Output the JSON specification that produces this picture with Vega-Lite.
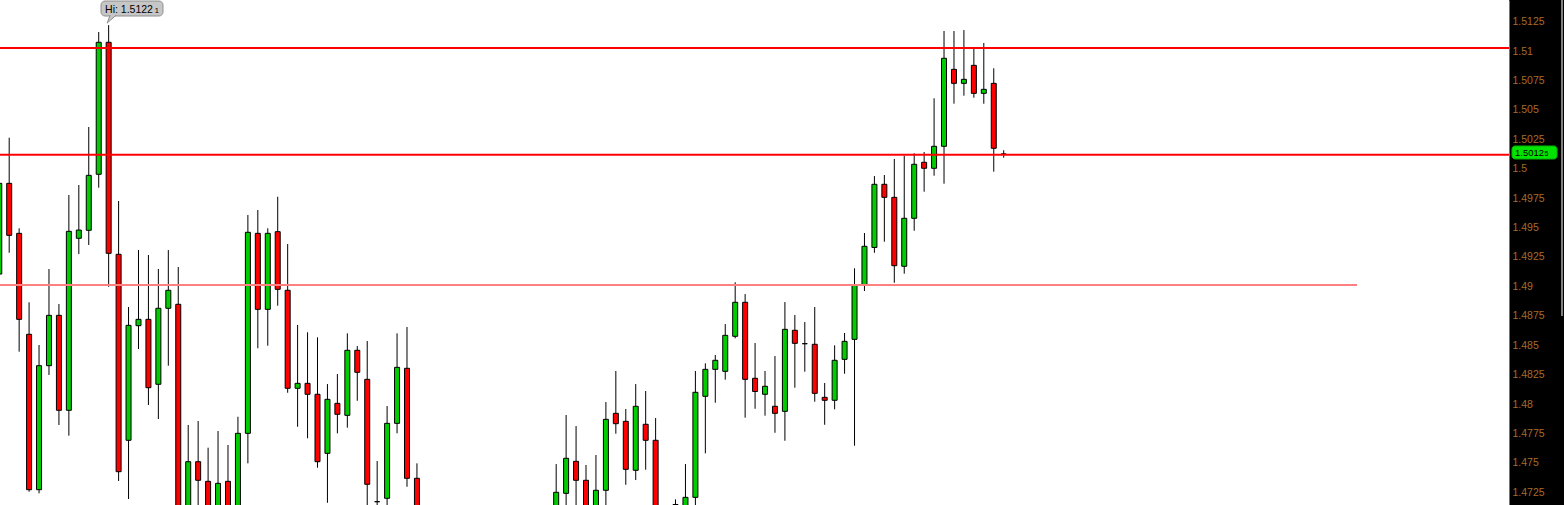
{
  "$schema": "https://vega.github.io/schema/vega-lite/v6.json",
  "width": 1509,
  "height": 505,
  "autosize": {"type": "none"},
  "padding": {"left": 0, "top": 0, "right": 55, "bottom": 0},
  "background": "#000000",
  "config": {"view": {"fill": "#ffffff", "stroke": null}},
  "resolve": {"axis": {"y": "independent"}},
  "datasets": {
    "candles": [
      {"idx": 0, "open": 1.49105, "high": 1.49876, "low": 1.49105, "close": 1.49876},
      {"idx": 1, "open": 1.49876, "high": 1.50264, "low": 1.49286, "close": 1.49434},
      {"idx": 2, "open": 1.49451, "high": 1.49494, "low": 1.48445, "close": 1.48720},
      {"idx": 3, "open": 1.48593, "high": 1.48865, "low": 1.47255, "close": 1.47272},
      {"idx": 4, "open": 1.47272, "high": 1.48502, "low": 1.47241, "close": 1.48326},
      {"idx": 5, "open": 1.48326, "high": 1.49148, "low": 1.48247, "close": 1.48754},
      {"idx": 6, "open": 1.48754, "high": 1.48850, "low": 1.47822, "close": 1.47947},
      {"idx": 7, "open": 1.47947, "high": 1.49777, "low": 1.47731, "close": 1.49468},
      {"idx": 8, "open": 1.49409, "high": 1.49862, "low": 1.49275, "close": 1.49479},
      {"idx": 9, "open": 1.49477, "high": 1.50355, "low": 1.49352, "close": 1.49944},
      {"idx": 10, "open": 1.49953, "high": 1.51162, "low": 1.49839, "close": 1.51075},
      {"idx": 11, "open": 1.51075, "high": 1.51221, "low": 1.48997, "close": 1.49281},
      {"idx": 12, "open": 1.49273, "high": 1.49726, "low": 1.47346, "close": 1.47425},
      {"idx": 13, "open": 1.47692, "high": 1.48825, "low": 1.47193, "close": 1.48669},
      {"idx": 14, "open": 1.48666, "high": 1.49309, "low": 1.48468, "close": 1.48720},
      {"idx": 15, "open": 1.48720, "high": 1.49267, "low": 1.47992, "close": 1.48139},
      {"idx": 16, "open": 1.48168, "high": 1.49148, "low": 1.47873, "close": 1.48814},
      {"idx": 17, "open": 1.48814, "high": 1.49309, "low": 1.48326, "close": 1.48967},
      {"idx": 18, "open": 1.48848, "high": 1.49165, "low": 1.47020, "close": 1.47060},
      {"idx": 19, "open": 1.47060, "high": 1.47822, "low": 1.47020, "close": 1.47510},
      {"idx": 20, "open": 1.47510, "high": 1.47856, "low": 1.47040, "close": 1.47352},
      {"idx": 21, "open": 1.47343, "high": 1.47629, "low": 1.47050, "close": 1.47100},
      {"idx": 22, "open": 1.47100, "high": 1.47771, "low": 1.47050, "close": 1.47326},
      {"idx": 23, "open": 1.47343, "high": 1.47652, "low": 1.47060, "close": 1.47110},
      {"idx": 24, "open": 1.47110, "high": 1.47892, "low": 1.47070, "close": 1.47751},
      {"idx": 25, "open": 1.47751, "high": 1.49607, "low": 1.47496, "close": 1.49460},
      {"idx": 26, "open": 1.49451, "high": 1.49649, "low": 1.48474, "close": 1.48805},
      {"idx": 27, "open": 1.48805, "high": 1.49494, "low": 1.48496, "close": 1.49451},
      {"idx": 28, "open": 1.49465, "high": 1.49762, "low": 1.48836, "close": 1.48975},
      {"idx": 29, "open": 1.48967, "high": 1.49360, "low": 1.48096, "close": 1.48134},
      {"idx": 30, "open": 1.48134, "high": 1.48672, "low": 1.47807, "close": 1.48176},
      {"idx": 31, "open": 1.48176, "high": 1.48610, "low": 1.47709, "close": 1.48083},
      {"idx": 32, "open": 1.48083, "high": 1.48567, "low": 1.47459, "close": 1.47510},
      {"idx": 33, "open": 1.47581, "high": 1.48170, "low": 1.47161, "close": 1.48040},
      {"idx": 34, "open": 1.48006, "high": 1.48255, "low": 1.47751, "close": 1.47913},
      {"idx": 35, "open": 1.47904, "high": 1.48601, "low": 1.47799, "close": 1.48457},
      {"idx": 36, "open": 1.48457, "high": 1.48493, "low": 1.48028, "close": 1.48270},
      {"idx": 37, "open": 1.48210, "high": 1.48536, "low": 1.47120, "close": 1.47318},
      {"idx": 38, "open": 1.47170, "high": 1.47516, "low": 1.47100, "close": 1.47170},
      {"idx": 39, "open": 1.47199, "high": 1.47983, "low": 1.47120, "close": 1.47836},
      {"idx": 40, "open": 1.47836, "high": 1.48601, "low": 1.47751, "close": 1.48312},
      {"idx": 41, "open": 1.48304, "high": 1.48655, "low": 1.47297, "close": 1.47369},
      {"idx": 42, "open": 1.47369, "high": 1.47496, "low": 1.46950, "close": 1.47000},
      {"idx": 56, "open": 1.47050, "high": 1.47490, "low": 1.47000, "close": 1.47250},
      {"idx": 57, "open": 1.47241, "high": 1.47907, "low": 1.47100, "close": 1.47539},
      {"idx": 58, "open": 1.47513, "high": 1.47813, "low": 1.47120, "close": 1.47352},
      {"idx": 59, "open": 1.47352, "high": 1.47482, "low": 1.47000, "close": 1.47060},
      {"idx": 60, "open": 1.47080, "high": 1.47567, "low": 1.47030, "close": 1.47267},
      {"idx": 61, "open": 1.47267, "high": 1.48017, "low": 1.47130, "close": 1.47870},
      {"idx": 62, "open": 1.47921, "high": 1.48281, "low": 1.47748, "close": 1.47833},
      {"idx": 63, "open": 1.47853, "high": 1.47958, "low": 1.47314, "close": 1.47445},
      {"idx": 64, "open": 1.47437, "high": 1.48170, "low": 1.47354, "close": 1.47981},
      {"idx": 65, "open": 1.47828, "high": 1.48111, "low": 1.47442, "close": 1.47692},
      {"idx": 66, "open": 1.47692, "high": 1.47881, "low": 1.47000, "close": 1.47050},
      {"idx": 68, "open": 1.47080, "high": 1.47190, "low": 1.47050, "close": 1.47146},
      {"idx": 69, "open": 1.47100, "high": 1.47490, "low": 1.47050, "close": 1.47207},
      {"idx": 70, "open": 1.47207, "high": 1.48281, "low": 1.47120, "close": 1.48100},
      {"idx": 71, "open": 1.48066, "high": 1.48346, "low": 1.47581, "close": 1.48295},
      {"idx": 72, "open": 1.48295, "high": 1.48417, "low": 1.48011, "close": 1.48372},
      {"idx": 73, "open": 1.48278, "high": 1.48680, "low": 1.48207, "close": 1.48584},
      {"idx": 74, "open": 1.48576, "high": 1.49035, "low": 1.48559, "close": 1.48865},
      {"idx": 75, "open": 1.48865, "high": 1.48935, "low": 1.47884, "close": 1.48210},
      {"idx": 76, "open": 1.48219, "high": 1.48519, "low": 1.47960, "close": 1.48107},
      {"idx": 77, "open": 1.48083, "high": 1.48281, "low": 1.47901, "close": 1.48151},
      {"idx": 78, "open": 1.47981, "high": 1.48408, "low": 1.47756, "close": 1.47921},
      {"idx": 79, "open": 1.47938, "high": 1.48867, "low": 1.47688, "close": 1.48635},
      {"idx": 80, "open": 1.48627, "high": 1.48757, "low": 1.48139, "close": 1.48516},
      {"idx": 81, "open": 1.48513, "high": 1.48697, "low": 1.48275, "close": 1.48513},
      {"idx": 82, "open": 1.48508, "high": 1.48825, "low": 1.48020, "close": 1.48091},
      {"idx": 83, "open": 1.48057, "high": 1.48179, "low": 1.47824, "close": 1.48032},
      {"idx": 84, "open": 1.48032, "high": 1.48499, "low": 1.47955, "close": 1.48372},
      {"idx": 85, "open": 1.48380, "high": 1.48604, "low": 1.48258, "close": 1.48533},
      {"idx": 86, "open": 1.48550, "high": 1.49154, "low": 1.47646, "close": 1.49009},
      {"idx": 87, "open": 1.49009, "high": 1.49454, "low": 1.48961, "close": 1.49341},
      {"idx": 88, "open": 1.49331, "high": 1.49938, "low": 1.49286, "close": 1.49868},
      {"idx": 89, "open": 1.49868, "high": 1.49947, "low": 1.49380, "close": 1.49757},
      {"idx": 90, "open": 1.49757, "high": 1.50083, "low": 1.49031, "close": 1.49176},
      {"idx": 91, "open": 1.49171, "high": 1.50111, "low": 1.49108, "close": 1.49579},
      {"idx": 92, "open": 1.49579, "high": 1.50131, "low": 1.49473, "close": 1.50038},
      {"idx": 93, "open": 1.50055, "high": 1.50142, "low": 1.49805, "close": 1.50004},
      {"idx": 94, "open": 1.50004, "high": 1.50599, "low": 1.49941, "close": 1.50191},
      {"idx": 95, "open": 1.50191, "high": 1.51171, "low": 1.49873, "close": 1.50939},
      {"idx": 96, "open": 1.50845, "high": 1.51171, "low": 1.50553, "close": 1.50726},
      {"idx": 97, "open": 1.50726, "high": 1.51179, "low": 1.50621, "close": 1.50760},
      {"idx": 98, "open": 1.50879, "high": 1.51018, "low": 1.50604, "close": 1.50641},
      {"idx": 99, "open": 1.50641, "high": 1.51069, "low": 1.50553, "close": 1.50675},
      {"idx": 100, "open": 1.50726, "high": 1.50854, "low": 1.49975, "close": 1.50174},
      {"idx": 101, "open": 1.50125, "high": 1.50157, "low": 1.50094, "close": 1.50125}
    ],
    "levels": [
      {"level": 1.510265, "kind": "major"},
      {"level": 1.501196, "kind": "major"},
      {"level": 1.49012, "kind": "minor"}
    ],
    "highMark": [
      {"idx": 11, "price": 1.51221, "label": "Hi: 1.5122", "frac": "1"}
    ],
    "lastPrice": [
      {"idx": 101, "price": 1.50125, "label": "1.5012", "frac": "5"}
    ]
  },
  "layer": [
    {
      "data": {"name": "candles"},
      "mark": {"type": "rule", "color": "#000000", "strokeWidth": 1, "clip": true},
      "encoding": {
        "x": {"field": "idx", "type": "quantitative", "scale": {"domain": [0.0749, 151.81], "nice": false, "zero": false, "padding": 0}, "axis": null},
        "y": {
          "field": "low", "type": "quantitative",
          "scale": {"domain": [1.471419, 1.514344], "nice": false, "zero": false},
          "axis": {
            "orient": "right",
            "values": [1.4725, 1.475, 1.4775, 1.48, 1.4825, 1.485, 1.4875, 1.49, 1.4925, 1.495, 1.4975, 1.5, 1.5025, 1.505, 1.5075, 1.51, 1.5125],
            "format": ".5~g",
            "title": null,
            "grid": false,
            "ticks": false,
            "tickSize": 0,
            "labelPadding": 3,
            "labelColor": "#a66c2a",
            "labelFont": "Liberation Sans",
            "labelFontSize": 10.5,
            "labelOverlap": false,
            "labelFlush": false,
            "labelBound": false,
            "domainColor": "#a66c2a",
            "domainWidth": 1
          }
        },
        "y2": {"field": "high"}
      }
    },
    {
      "data": {"name": "candles"},
      "mark": {"type": "bar", "size": 5, "stroke": "#000000", "strokeWidth": 1, "clip": true},
      "encoding": {
        "x": {"field": "idx", "type": "quantitative", "scale": {"domain": [0.0749, 151.81], "nice": false, "zero": false, "padding": 0}, "axis": null},
        "y": {"field": "open", "type": "quantitative", "scale": {"domain": [1.471419, 1.514344], "nice": false, "zero": false}, "axis": null},
        "y2": {"field": "close"},
        "fill": {"condition": {"test": "datum.close > datum.open", "value": "#00cc00"}, "value": "#ff0000"}
      }
    },
    {
      "data": {"name": "levels"},
      "transform": [{"filter": "datum.kind === 'major'"}],
      "mark": {"type": "rule", "color": "#ff0000", "strokeWidth": 2},
      "encoding": {
        "y": {"field": "level", "type": "quantitative", "scale": {"domain": [1.471419, 1.514344], "nice": false, "zero": false}, "axis": null}
      }
    },
    {
      "data": {"name": "levels"},
      "transform": [{"filter": "datum.kind === 'minor'"}],
      "mark": {"type": "rule", "color": "#ff8080", "strokeWidth": 2},
      "encoding": {
        "x": {"datum": 0.0749, "type": "quantitative", "scale": {"domain": [0.0749, 151.81], "nice": false, "zero": false, "padding": 0}, "axis": null},
        "x2": {"datum": 136.53},
        "y": {"field": "level", "type": "quantitative", "scale": {"domain": [1.471419, 1.514344], "nice": false, "zero": false}, "axis": null}
      }
    },
    {
      "data": {"name": "highMark"},
      "mark": {"type": "rect", "fill": "#c6c6c6", "stroke": "#8e8e8e", "strokeWidth": 1, "cornerRadius": 4},
      "encoding": {
        "x": {"datum": 10.231, "type": "quantitative", "scale": {"domain": [0.0749, 151.81], "nice": false, "zero": false, "padding": 0}, "axis": null},
        "x2": {"datum": 16.465},
        "y": {"datum": 1.514259, "type": "quantitative", "scale": {"domain": [1.471419, 1.514344], "nice": false, "zero": false}, "axis": null},
        "y2": {"datum": 1.512984}
      }
    },
    {
      "data": {"name": "highMark"},
      "mark": {"type": "point", "shape": "M0.15,-1L-0.15,-0.2L0.75,-1", "size": 400, "filled": true, "fill": "#c6c6c6", "stroke": "#8e8e8e", "strokeWidth": 1, "opacity": 1},
      "encoding": {
        "x": {"field": "idx", "type": "quantitative", "scale": {"domain": [0.0749, 151.81], "nice": false, "zero": false, "padding": 0}, "axis": null},
        "y": {"field": "price", "type": "quantitative", "scale": {"domain": [1.471419, 1.514344], "nice": false, "zero": false}, "axis": null}
      }
    },
    {
      "data": {"name": "highMark"},
      "mark": {"type": "text", "align": "left", "baseline": "alphabetic", "dx": -3.6, "dy": -12.6, "font": "Liberation Sans", "fontSize": 10.5, "color": "#000000"},
      "encoding": {
        "x": {"field": "idx", "type": "quantitative", "scale": {"domain": [0.0749, 151.81], "nice": false, "zero": false, "padding": 0}, "axis": null},
        "y": {"field": "price", "type": "quantitative", "scale": {"domain": [1.471419, 1.514344], "nice": false, "zero": false}, "axis": null},
        "text": {"field": "label"}
      }
    },
    {
      "data": {"name": "highMark"},
      "mark": {"type": "text", "align": "left", "baseline": "alphabetic", "dx": 46, "dy": -12.6, "font": "Liberation Sans", "fontSize": 7.5, "color": "#000000"},
      "encoding": {
        "x": {"field": "idx", "type": "quantitative", "scale": {"domain": [0.0749, 151.81], "nice": false, "zero": false, "padding": 0}, "axis": null},
        "y": {"field": "price", "type": "quantitative", "scale": {"domain": [1.471419, 1.514344], "nice": false, "zero": false}, "axis": null},
        "text": {"field": "frac"}
      }
    },
    {
      "data": {"name": "lastPrice"},
      "mark": {"type": "rect", "fill": "#00e400", "stroke": "#00b400", "strokeWidth": 1, "cornerRadius": 3},
      "encoding": {
        "x": {"datum": 152.11, "type": "quantitative", "scale": {"domain": [0.0749, 151.81], "nice": false, "zero": false, "padding": 0}, "axis": null},
        "x2": {"datum": 156.64},
        "y": {"datum": 1.501935, "type": "quantitative", "scale": {"domain": [1.471419, 1.514344], "nice": false, "zero": false}, "axis": null},
        "y2": {"datum": 1.50083}
      }
    },
    {
      "data": {"name": "lastPrice"},
      "mark": {"type": "text", "align": "left", "baseline": "alphabetic", "dy": 2.4, "font": "Liberation Sans", "fontSize": 9.5, "color": "#000000"},
      "encoding": {
        "x": {"datum": 152.41, "type": "quantitative", "scale": {"domain": [0.0749, 151.81], "nice": false, "zero": false, "padding": 0}, "axis": null},
        "y": {"field": "price", "type": "quantitative", "scale": {"domain": [1.471419, 1.514344], "nice": false, "zero": false}, "axis": null},
        "text": {"field": "label"}
      }
    },
    {
      "data": {"name": "lastPrice"},
      "mark": {"type": "text", "align": "left", "baseline": "alphabetic", "dy": 2.4, "font": "Liberation Sans", "fontSize": 7, "color": "#000000"},
      "encoding": {
        "x": {"datum": 155.38, "type": "quantitative", "scale": {"domain": [0.0749, 151.81], "nice": false, "zero": false, "padding": 0}, "axis": null},
        "y": {"field": "price", "type": "quantitative", "scale": {"domain": [1.471419, 1.514344], "nice": false, "zero": false}, "axis": null},
        "text": {"field": "frac"}
      }
    },
    {
      "data": {"values": [{}]},
      "mark": {"type": "rule", "color": "#808080", "strokeWidth": 2},
      "encoding": {
        "x": {"datum": 157.14, "type": "quantitative", "scale": {"domain": [0.0749, 151.81], "nice": false, "zero": false, "padding": 0}, "axis": null},
        "y": {"datum": 1.514344, "type": "quantitative", "scale": {"domain": [1.471419, 1.514344], "nice": false, "zero": false}, "axis": null},
        "y2": {"datum": 1.487484}
      }
    }
  ]
}
